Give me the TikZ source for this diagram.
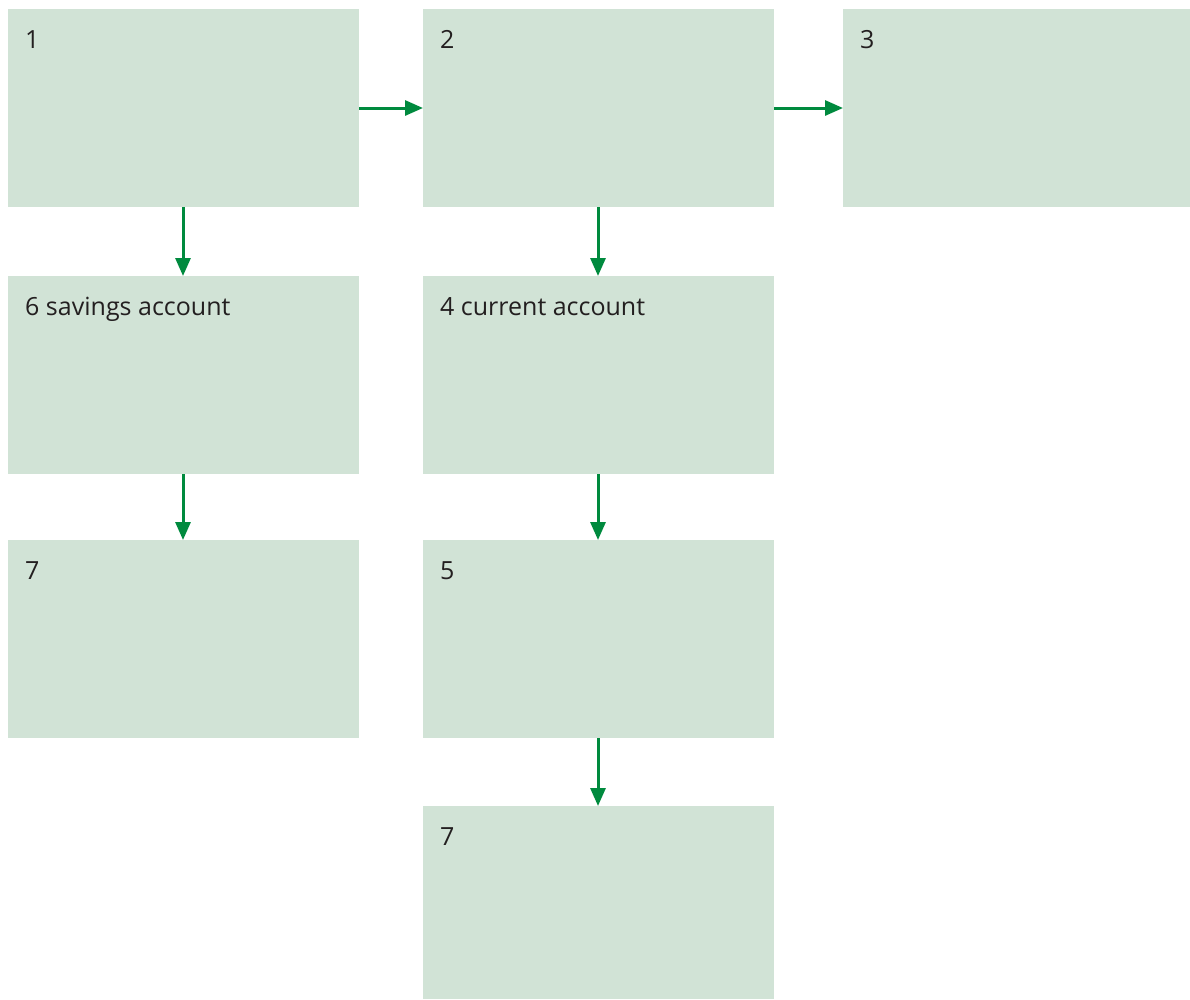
\documentclass[tikz,border=0pt]{standalone}
\usepackage{fontspec}
\setmainfont{Open Sans}
\usetikzlibrary{arrows.meta}
\definecolor{boxfill}{HTML}{D1E3D6}
\definecolor{arrowgreen}{HTML}{008A3E}
\definecolor{textgray}{HTML}{231F20}
\tikzset{
  stepbox/.style={fill=boxfill, draw=none, minimum width=351pt, minimum height=198pt, inner sep=0pt, anchor=north west},
  lbl/.style={anchor=base west, inner sep=0pt, text=textgray, font=\fontsize{25}{30}\selectfont},
  conn/.style={draw=arrowgreen, line width=3pt, -{Triangle[length=18pt,width=15pt]}}
}
\begin{document}
\begin{tikzpicture}[x=1pt,y=-1pt]
\useasboundingbox (0,0) rectangle (1190,999);
\node[stepbox] (b1) at (8,9) {};
\node[stepbox] (b2) at (423,9) {};
\node[stepbox, minimum width=347pt] (b3) at (843,9) {};
\node[stepbox] (b6) at (8,276) {};
\node[stepbox] (b4) at (423,276) {};
\node[stepbox] (b7a) at (8,540) {};
\node[stepbox] (b5) at (423,540) {};
\node[stepbox, minimum height=193pt] (b7b) at (423,806) {};
\node[lbl] (t1) at (25,48) {1};
\node[lbl] (t2) at (440,48) {2};
\node[lbl] (t3) at (860,48) {3};
\node[lbl] (t6) at (25,315) {6 savings account};
\node[lbl] (t4) at (440,315) {4 current account};
\node[lbl] (t7a) at (25,579) {7};
\node[lbl] (t5) at (440,579) {5};
\node[lbl] (t7b) at (440,845) {7};
\draw[conn] (b1.east |- 0,108) -- (b2.west |- 0,108);
\draw[conn] (b2.east |- 0,108) -- (b3.west |- 0,108);
\draw[conn] (b1.south -| 183,0) -- (b6.north -| 183,0);
\draw[conn] (b6.south -| 183,0) -- (b7a.north -| 183,0);
\draw[conn] (b2.south -| 598,0) -- (b4.north -| 598,0);
\draw[conn] (b4.south -| 598,0) -- (b5.north -| 598,0);
\draw[conn] (b5.south -| 598,0) -- (b7b.north -| 598,0);
\end{tikzpicture}
\end{document}
